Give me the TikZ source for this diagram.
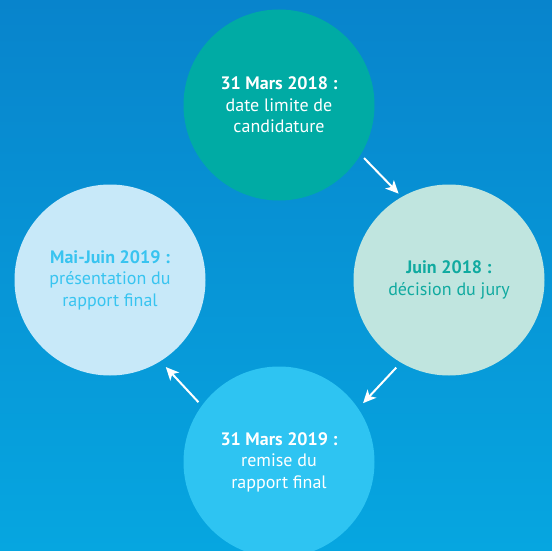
\documentclass[tikz,border=0pt]{standalone}
\usepackage{fontspec}
\setmainfont{PT Sans}
\usepackage{tikz}
\usetikzlibrary{calc,arrows.meta,positioning}
\definecolor{fondhaut}{RGB}{8,132,204}
\definecolor{fondbas}{RGB}{6,166,224}
\definecolor{sarcelle}{RGB}{0,171,164}
\definecolor{menthe}{RGB}{192,229,223}
\definecolor{ciel}{RGB}{200,233,249}
\definecolor{azur}{RGB}{46,196,242}
\definecolor{sarcelletexte}{RGB}{16,170,160}
\definecolor{azurtexte}{RGB}{56,196,240}
\tikzset{
etape/.style={circle, minimum size=191pt, inner sep=0pt, align=center,
  font=\fontsize{18}{21.5}\selectfont}, % the four date circles
fleche/.style={draw=white, line width=2pt, -{Stealth[length=13pt,width=12pt,inset=3.5pt]}},
}
\begin{document}
\begin{tikzpicture}[x=1pt,y=-1pt]
   \useasboundingbox (0,0) rectangle (552,551);
   \clip (0,0) rectangle (552,551);
   \shade[top color=fondhaut, bottom color=fondbas] (0,0) rectangle (552,551);
   \node[etape, fill=sarcelle, text=white] (e_0) at (279,105)
      {\textbf{31 Mars 2018 :}\\date limite de\\candidature};
   \node[etape, fill=menthe, text=sarcelletexte] (e_1) at (449,280)
      {\textbf{Juin 2018 :}\\décision du jury};
   \node[etape, fill=azur, text=white] (e_2) at (279,462)
      {\textbf{31 Mars 2019 :}\\remise du\\rapport final};
   \node[etape, fill=ciel, text=azurtexte] (e_3) at (110,280)
      {\textbf{Mai-Juin 2019 :}\\présentation du\\rapport final};
    \draw[fleche, transform canvas={shift={(17pt,17pt)}}, shorten <=2pt, shorten >=1pt] (e_0) -- (e_1);
    \draw[fleche, transform canvas={shift={(16pt,-14pt)}}, shorten <=5pt, shorten >=4pt] (e_1) -- (e_2);
    \draw[fleche, transform canvas={shift={(-12pt,-14pt)}}, shorten <=5pt, shorten >=4pt] (e_2) -- (e_3);
\end{tikzpicture}
\end{document}
